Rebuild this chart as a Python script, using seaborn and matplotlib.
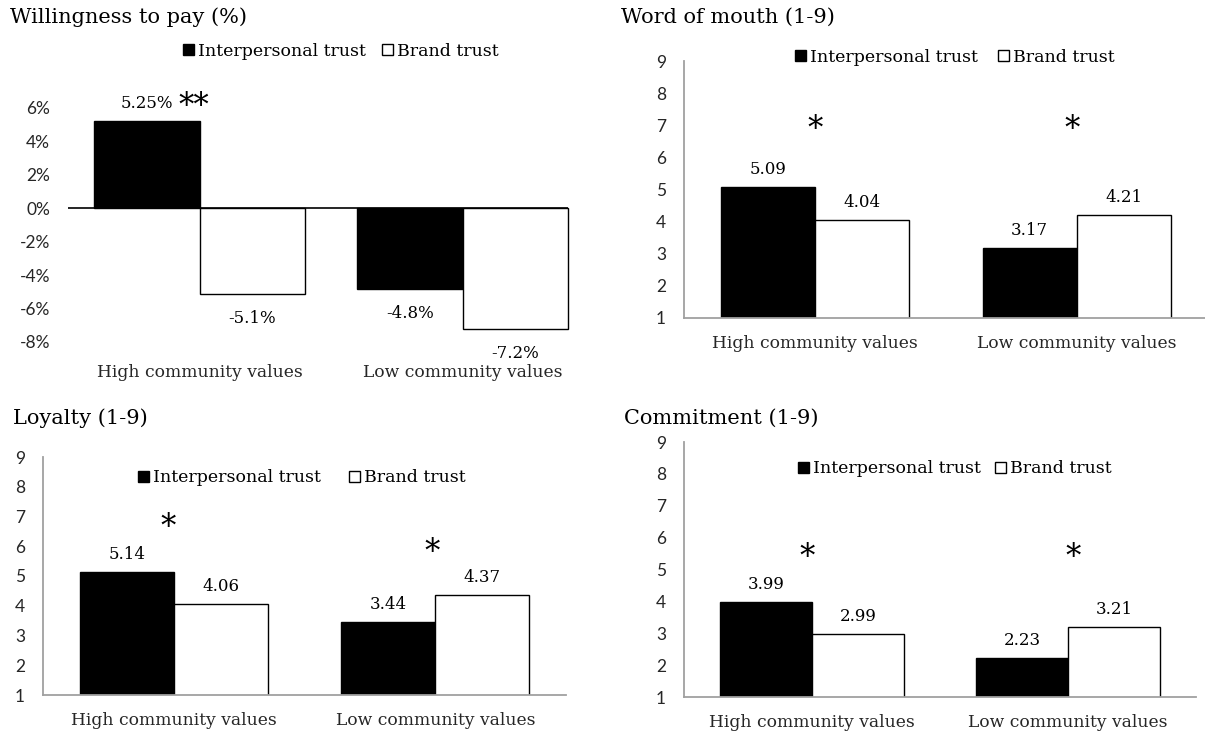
import numpy as np
import pandas as pd
import matplotlib
matplotlib.use('Agg')
import matplotlib.pyplot as plt
import seaborn as sns
from matplotlib.transforms import offset_copy

# 数据
groups = ['High community values', 'Low community values']
trust_types = ['Interpersonal trust', 'Brand trust']

wtp_interpersonal = [5.25, -4.8]
wtp_brand = [-5.1, -7.2]
wtp_interpersonal_labels = ['5.25%', '-4.8%']
wtp_brand_labels = ['-5.1%', '-7.2%']
wtp_stars = ['**', '']

wom_interpersonal = [5.09, 3.17]
wom_brand = [4.04, 4.21]
wom_stars = ['*', '*']

loyalty_interpersonal = [5.14, 3.44]
loyalty_brand = [4.06, 4.37]
loyalty_stars = ['*', '*']

commit_interpersonal = [3.99, 2.23]
commit_brand = [2.99, 3.21]
commit_stars = ['*', '*']

pct_ticks = [-8, -6, -4, -2, 0, 2, 4, 6]
scale_ticks = [1, 2, 3, 4, 5, 6, 7, 8, 9]

sns.set_style('white')
plt.rcParams['font.family'] = ['DejaVu Serif']
plt.rcParams['text.color'] = 'black'

W, H = 1205, 738
fig = plt.figure(figsize=(W / 100, H / 100), dpi=100)
AXIS_GREY = '#a0a0a0'
TICK_FS = 12.5


def make_df(first, second):
    return pd.DataFrame({
        'group': groups * 2,
        'trust': [trust_types[0]] * 2 + [trust_types[1]] * 2,
        'value': first + second,
    })


def px_axes(left, top, right, bottom):
    return fig.add_axes([left / W, 1 - bottom / H, (right - left) / W, (bottom - top) / H])


def draw_panel(ax, df, width):
    sns.barplot(data=df, x='group', y='value', hue='trust', order=groups,
                hue_order=trust_types, palette=['black', 'white'], saturation=1,
                edgecolor='black', linewidth=1.0, width=width, errorbar=None, ax=ax)
    ax.set_xlabel('')
    ax.set_ylabel('')
    ax.tick_params(axis='both', length=0)
    ax.tick_params(axis='y', pad=13)
    for lab in ax.get_xticklabels():
        lab.set_fontsize(12.3)


def add_stars(ax, stars, xs, ys, fs=22):
    tr = offset_copy(ax.transData, fig=fig, y=-0.58 * fs, units='points')
    for s, x, y in zip(stars, xs, ys):
        ax.text(x, y, s, transform=tr, ha='center', va='baseline', fontsize=fs,
                clip_on=False)


def add_legend(ax, cx, cy, colsp):
    sns.move_legend(ax, 'center', bbox_to_anchor=(cx / W, 1 - cy / H),
                    bbox_transform=fig.transFigure, ncol=2, title=None,
                    frameon=False, fontsize=12.5, handlelength=0.62,
                    handleheight=0.62, handletextpad=0.25, columnspacing=colsp,
                    borderpad=0, borderaxespad=0)


# Panel 1: willingness to pay
ax1 = px_axes(68, 108, 568, 342)
draw_panel(ax1, make_df(wtp_interpersonal, wtp_brand), 0.8)
ax1.set_ylim(-8, 6)
ax1.set_xlim(-0.5, 1.4)
ax1.set_yticks(pct_ticks)
ax1.set_yticklabels([f'{t}%' for t in pct_ticks], fontfamily='Lato', fontsize=TICK_FS)
ax1.tick_params(axis='x', pad=15.5)
for side in ['left', 'right', 'top', 'bottom']:
    ax1.spines[side].set_visible(False)
for p in ax1.patches:
    p.set_clip_on(False)
ax1.axhline(0, color='black', lw=1.2, zorder=0.5)
for cont, labs in zip(ax1.containers, [wtp_interpersonal_labels, wtp_brand_labels]):
    ax1.bar_label(cont, labels=labs, padding=6, fontsize=12)
# negative labels sit further from the bar end
for t in ax1.texts:
    if t.get_text().startswith('-'):
        x, y = t.xyann
        t.xyann = (x, y - 6)
add_stars(ax1, wtp_stars, [-0.02, 1.0], [6.66, 6.66])
add_legend(ax1, 341, 51, 0.9)
fig.text(10 / W, 1 - 17 / H, 'Willingness to pay (%)', ha='left', va='center', fontsize=15)

# Panels 2-4: 1-9 scales
panels = [
    ((684, 61, 1205, 318), wom_interpersonal, wom_brand, wom_stars,
     [0.0, 0.98], [7.16, 7.16], (955, 57), 1.15, (621, 17), 'Word of mouth (1-9)', 1.489),
    ((43, 457, 566, 695), loyalty_interpersonal, loyalty_brand, loyalty_stars,
     [-0.02, 0.99], [6.95, 6.11], (302, 478), 1.6, (13, 418), 'Loyalty (1-9)', 1.5),
    ((684, 442, 1196, 697), commit_interpersonal, commit_brand, commit_stars,
     [-0.02, 1.02], [5.68, 5.68], (955, 469), 0.8, (624, 418), 'Commitment (1-9)', 1.5),
]

for rect, inter, brand, stars, sx, sy, leg, colsp, tpos, title, xmax in panels:
    ax = px_axes(*rect)
    draw_panel(ax, make_df(inter, brand), 0.72)
    ax.set_ylim(1, 9)
    ax.set_xlim(-0.5, xmax)
    ax.set_yticks(scale_ticks)
    ax.set_yticklabels([str(t) for t in scale_ticks], fontfamily='Lato', fontsize=TICK_FS)
    ax.tick_params(axis='x', pad=12.5)
    sns.despine(ax=ax)
    for side in ['left', 'bottom']:
        ax.spines[side].set_color(AXIS_GREY)
        ax.spines[side].set_linewidth(1.3)
    for cont, vals in zip(ax.containers, [inter, brand]):
        ax.bar_label(cont, labels=[f'{v:.2f}' for v in vals], padding=6.5, fontsize=12)
    add_stars(ax, stars, sx, sy)
    add_legend(ax, leg[0], leg[1], colsp)
    fig.text(tpos[0] / W, 1 - tpos[1] / H, title, ha='left', va='center', fontsize=15)

plt.savefig('out.png', dpi=100)
